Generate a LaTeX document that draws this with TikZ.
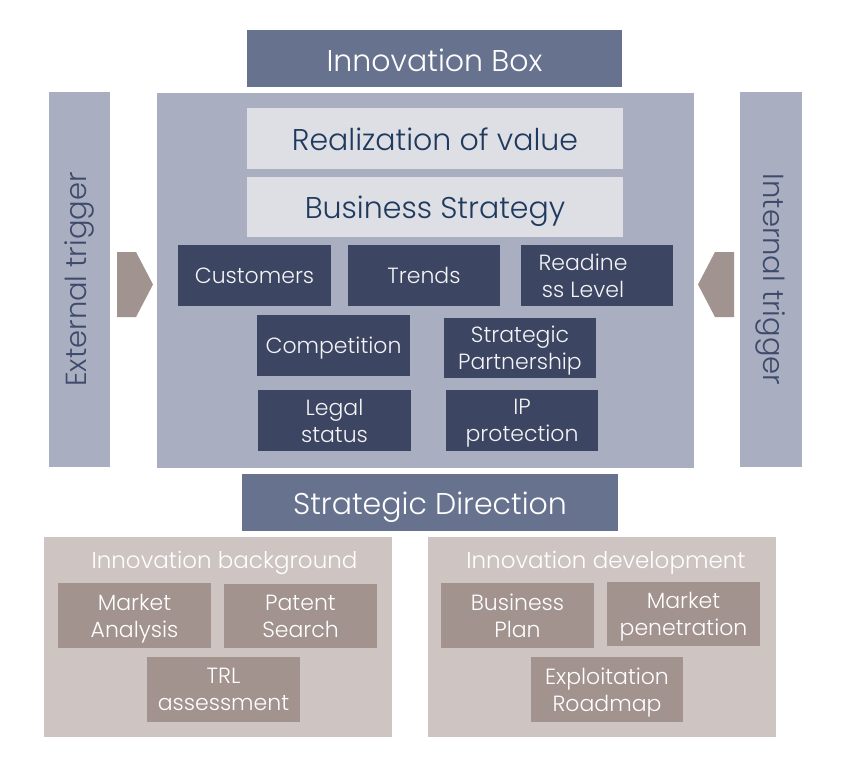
\documentclass[tikz,border=0pt]{standalone}
\usepackage{fontspec}
\IfFontExistsTF{Poppins Light}{\setmainfont{Poppins Light}}{\setmainfont{Poppins}}
\definecolor{slate}{HTML}{67728F}
\definecolor{mainbg}{HTML}{A9AFC1}
\definecolor{lightbox}{HTML}{DDDFE5}
\definecolor{darkbox}{HTML}{3C4562}
\definecolor{arrowc}{HTML}{A1938F}
\definecolor{panelc}{HTML}{CEC4C2}
\definecolor{innerc}{HTML}{A2938F}
\definecolor{navytext}{HTML}{1F3A5E}
\definecolor{trigtext}{HTML}{3E4A6B}
\definecolor{lighttext}{HTML}{F4F4F6}
\tikzset{
  rbox/.style={rectangle, inner sep=0pt, align=center},
  titlebox/.style={rbox, fill=slate, text=white, font=\fontsize{30}{34}\selectfont, text height=23pt, text depth=0pt},
  valuebox/.style={rbox, fill=lightbox, text=navytext, font=\fontsize{30}{34}\selectfont, text height=23pt, text depth=0pt},
  factor/.style={rbox, fill=darkbox, text=lighttext, font=\fontsize{22}{27}\selectfont, minimum width=152pt, minimum height=61pt, text depth=0pt},
  trigbar/.style={rbox, fill=mainbg, minimum width=61pt, minimum height=375pt},
  trigtxt/.style={text=trigtext, font=\fontsize{29}{34}\selectfont, inner sep=0pt},
  panel/.style={rbox, fill=panelc, minimum width=348pt, minimum height=200pt},
  paneltitle/.style={text=white, font=\fontsize{23}{27}\selectfont, inner sep=0pt},
  inner/.style={rbox, fill=innerc, text=white, font=\fontsize{22}{27}\selectfont, minimum width=153pt, minimum height=65pt, text depth=0pt},
  trigarrow/.style={fill=arrowc}
}
\begin{document}
\begin{tikzpicture}[x=1pt, y=-1pt]
\useasboundingbox[fill=white] (0,0) rectangle (846,772);
% top title
\node[titlebox, minimum width=375pt, minimum height=57pt, text height=26pt] (ibox) at (434.5,58.5) {Innovation Box};
% main container
\node[rbox, fill=mainbg, minimum width=537pt, minimum height=375pt] (main) at (425.5,280.5) {};
% trigger bars
\node[trigbar] (extbar) at (79.5,279.5) {};
\node[trigbar, minimum width=62pt] (intbar) at (771,279.5) {};
\node[trigtxt, rotate=90] (exttxt) at (extbar.center) {External trigger};
\node[trigtxt, rotate=-90] (inttxt) at (intbar.center) {Internal trigger};
% trigger arrows
\fill[trigarrow] (117,252) -- (136,252) -- (153,284.5) -- (136,317) -- (117,317) -- cycle;
\fill[trigarrow] (734,252) -- (715,252) -- (698,284.5) -- (715,317) -- (734,317) -- cycle;
% value boxes
\node[valuebox, minimum width=376pt, minimum height=61pt] (real) at (435,138.5) {Realization of value};
\node[valuebox, minimum width=376pt, minimum height=60pt] (bstrat) at (435,207) {Business Strategy};
% factor boxes
\node[factor, minimum width=153pt] (cust) at (254.5,275.5) {Customers};
\node[factor] (trends) at (424,275.5) {Trends};
\node[factor] (ready) at (597,275.5) {};
\node[text=lighttext, font=\fontsize{22}{27}\selectfont, align=center, inner sep=0pt, text depth=0pt] (readytxt) at (583,275.5) {Readine\\ss Level};
\node[factor, minimum width=153pt] (comp) at (333.5,345.5) {Competition};
\node[factor, minimum height=60pt] (spart) at (520,348) {Strategic\\Partnership};
\node[factor, minimum width=153pt] (legal) at (334.5,420.5) {Legal\\status};
\node[factor] (ip) at (522,420.5) {IP\\protection};
% strategic direction
\node[titlebox, minimum width=376pt, minimum height=57pt] (sdir) at (430,502.5) {Strategic Direction};
% bottom panels
\node[panel] (bgpanel) at (218,637) {};
\node[panel] (devpanel) at (602,637) {};
\node[paneltitle] (bgtitle) at (224.5,563) {Innovation background};
\node[paneltitle] (devtitle) at (606,563) {Innovation development};
\node[inner] (ma) at (134.5,615.5) {Market\\Analysis};
\node[inner, minimum height=64pt] (ps) at (300.5,616) {Patent\\Search};
\node[inner] (trl) at (223.5,689.5) {TRL\\assessment};
\node[inner] (bp) at (517.5,615.5) {Business\\Plan};
\node[inner, minimum height=64pt] (mp) at (683.5,614) {Market\\penetration};
\node[inner, minimum width=152pt] (er) at (607,689.5) {Exploitation\\Roadmap};
\end{tikzpicture}
\end{document}
